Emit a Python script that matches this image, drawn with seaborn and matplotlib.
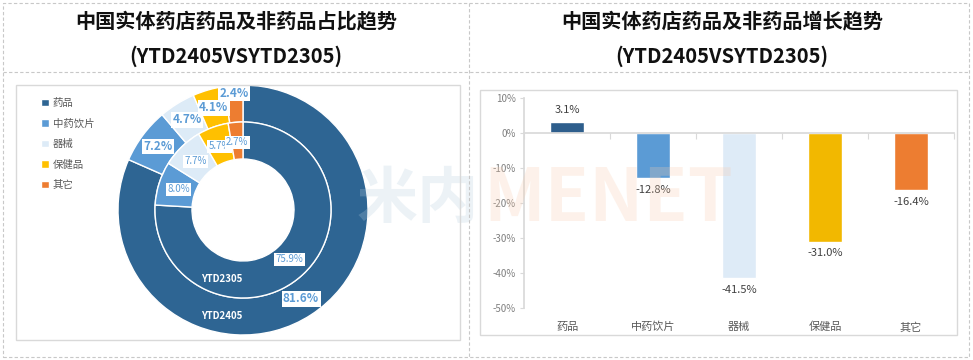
import matplotlib
matplotlib.use('Agg')
import matplotlib.pyplot as plt
import seaborn as sns
from matplotlib.patches import Rectangle
from matplotlib.lines import Line2D

sns.set_theme(style='white')
plt.rcParams['font.family'] = ['Noto Sans CJK SC', 'DejaVu Sans']

categories = ['药品', '中药饮片', '器械', '保健品', '其它']
share_2405 = [81.6, 7.2, 4.7, 4.1, 2.4]
share_2305 = [75.9, 8.0, 7.7, 5.7, 2.7]
growth = [3.1, -12.8, -41.5, -31.0, -16.4]
colors = ['#2E6593', '#5B9BD5', '#DDEBF7', '#FFC000', '#ED7D31']
bar_colors = ['#2E5E8C', '#5B9BD5', '#DEEBF7', '#F2B800', '#ED7D31']

W, H = 973, 360
fig = plt.figure(figsize=(W / 100, H / 100), dpi=100)


def box(x, y, w, h):
    # pixel box (top-left origin) -> figure fraction rect
    return [x / W, 1 - (y + h) / H, w / W, h / H]


# frames
fig.add_artist(Rectangle((3 / W, 1 - 357 / H), 966 / W, 354 / H, transform=fig.transFigure,
                         fill=False, ec='#c8c8c8', lw=0.8, ls=(0, (3, 2))))
fig.add_artist(Line2D([469 / W, 469 / W], [1 - 3 / H, 1 - 357 / H], transform=fig.transFigure,
                      color='#c8c8c8', lw=0.8, ls=(0, (3, 2))))
fig.add_artist(Line2D([3 / W, 969 / W], [1 - 72 / H, 1 - 72 / H], transform=fig.transFigure,
                      color='#c8c8c8', lw=0.8, ls=(0, (3, 2))))
fig.add_artist(Rectangle((16 / W, 1 - 340 / H), 444 / W, 255 / H, transform=fig.transFigure,
                         fill=False, ec='#d9d9d9', lw=1))
fig.add_artist(Rectangle((480 / W, 1 - 335 / H), 477 / W, 245 / H, transform=fig.transFigure,
                         fill=False, ec='#d9d9d9', lw=1))

# titles
for cx, t in [(236, '中国实体药店药品及非药品占比趋势'), (722, '中国实体药店药品及非药品增长趋势')]:
    fig.text(cx / W, 1 - 21 / H, t, ha='center', va='center', fontsize=14.5, fontweight='bold', color='#111111')
    fig.text(cx / W, 1 - 56 / H, '(YTD2405VSYTD2305)', ha='center', va='center', fontsize=14.5,
             fontweight='bold', color='#111111')

# donut
ax1 = fig.add_axes(box(118, 85, 250, 250))
outer, _, outer_txt = ax1.pie(share_2405, radius=1, startangle=90, counterclock=False, colors=colors,
                              autopct='%.1f%%', pctdistance=0.85,
                              wedgeprops=dict(width=0.296, edgecolor='white', linewidth=1))
inner, _, inner_txt = ax1.pie(share_2305, radius=0.704, startangle=90, counterclock=False, colors=colors,
                              autopct='%.1f%%', pctdistance=0.77,
                              wedgeprops=dict(width=0.296, edgecolor='white', linewidth=1))
for t in outer_txt:
    t.set(color='#5B9BD5', fontsize=8.5, fontweight='bold', zorder=5)
    t.set_bbox(dict(facecolor='white', edgecolor='none', pad=1))
# nudge the smallest outer label outward like excel does
x, y = outer_txt[-1].get_position()
outer_txt[-1].set_position((x * 1.1, y * 1.1))
for t in inner_txt:
    t.set(color='#5B9BD5', fontsize=7, zorder=5)
    t.set_bbox(dict(facecolor='white', edgecolor='none', pad=1))
ax1.text(-0.168, -0.552, 'YTD2305', ha='center', va='center', color='white', fontsize=7, fontweight='bold')
ax1.text(-0.168, -0.848, 'YTD2405', ha='center', va='center', color='white', fontsize=7, fontweight='bold')
ax1.set_xlim(-1, 1)
ax1.set_ylim(-1, 1)
ax1.set_aspect('equal')

fig.legend(outer, categories, loc='upper left', bbox_to_anchor=(36 / W, 1 - 93 / H), frameon=False,
           fontsize=7.5, labelcolor='#595959', handlelength=0.7, handleheight=0.7,
           handletextpad=0.4, labelspacing=1.0, borderpad=0)

# bars
ax2 = fig.add_axes(box(524, 98, 430, 210))
sns.barplot(x=categories, y=growth, hue=categories, palette=bar_colors, width=0.39,
            legend=False, ax=ax2, saturation=1)
for c in ax2.containers:
    ax2.bar_label(c, fmt='%.1f%%', padding=5, fontsize=8, color='#404040')
ax2.set_ylim(-50, 10)
ax2.set_xlim(-0.5, len(categories) - 0.5)
ax2.set_yticks(range(-50, 11, 10))
ax2.set_yticklabels([f'{v}%' for v in range(-50, 11, 10)], fontsize=7, color='#7f7f7f')
ax2.tick_params(axis='y', length=3, color='#d9d9d9', width=0.8, pad=3, left=True)
for s in ['top', 'right']:
    ax2.spines[s].set_visible(False)
ax2.spines['left'].set_color('#d9d9d9')
ax2.spines['bottom'].set_position(('data', 0))
ax2.spines['bottom'].set_color('#d9d9d9')
ax2.set_xticks([i - 0.5 for i in range(len(categories) + 1)])
ax2.set_xticklabels([])
ax2.tick_params(axis='x', length=4, color='#d9d9d9', width=0.8, bottom=True, direction='out')
sec = ax2.secondary_xaxis('bottom')
sec.set_xticks(range(len(categories)))
sec.set_xticklabels(categories, fontsize=8, color='#595959')
sec.tick_params(length=0, pad=10)
sec.spines['bottom'].set_visible(False)
ax2.set_facecolor('none')

# watermark
fig.text(479 / W, 1 - 200 / H, '米内', ha='right', va='center', fontsize=44, fontweight='bold',
         color='#B4CCDD', alpha=0.25, zorder=0)
fig.text(483 / W, 1 - 200 / H, 'MENET', ha='left', va='center', fontsize=52, fontweight='bold',
         color='#F8CBAD', alpha=0.25, zorder=0)

fig.savefig('out.png', dpi=100)
